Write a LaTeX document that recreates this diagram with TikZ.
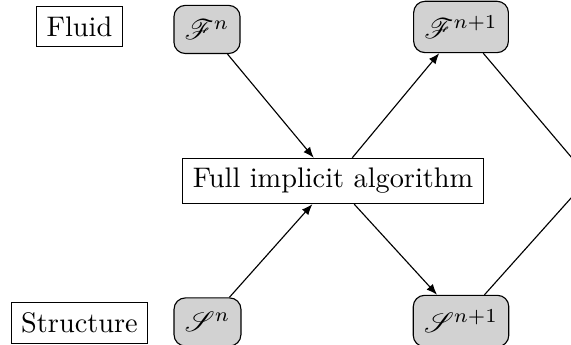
\documentclass[tikz,border=0pt]{standalone}
\usepackage{amsmath,amssymb,mathrsfs}
\usetikzlibrary{arrows.meta}

\tikzset{
  label box/.style={draw, inner sep=3.5pt},
  state box/.style={draw, fill=gray!35, rounded corners=4pt, inner xsep=3.8pt, inner ysep=5pt},
}

\begin{document}
\begin{tikzpicture}[>={Latex[length=3.8pt, width=3pt]}]

% Page frame (the next step runs off the right edge)
\path[use as bounding box, clip] (0,0) rectangle (7.092,4.285);

% Row labels
\node[label box] (fluid) at (0.987,3.956) {Fluid};
\node[label box] (structure) at (0.987,0.273) {Structure};

% Fluid and structure states
\node[state box] (fn) at (2.571,3.919) {$\mathscr{F}^n$};
\node[state box] (sn) at (2.577,0.286) {$\mathscr{S}^n$};
\node[state box] (fn1) at (5.726,3.950) {$\mathscr{F}^{n+1}$};
\node[state box] (sn1) at (5.726,0.298) {$\mathscr{S}^{n+1}$};

% Coupled solver
\node[label box] (solver) at (4.136,2.037) {Full implicit algorithm};

% Following step
\coordinate (next) at (7.315,2.074);

% Arrows
\draw[->] (fn) -- (solver);
\draw[->] (sn) -- (solver);
\draw[->] (solver) -- (fn1);
\draw[->] (solver) -- (sn1);
\draw[->] (fn1) -- (next);
\draw[->] (sn1) -- (next);

\end{tikzpicture}
\end{document}
